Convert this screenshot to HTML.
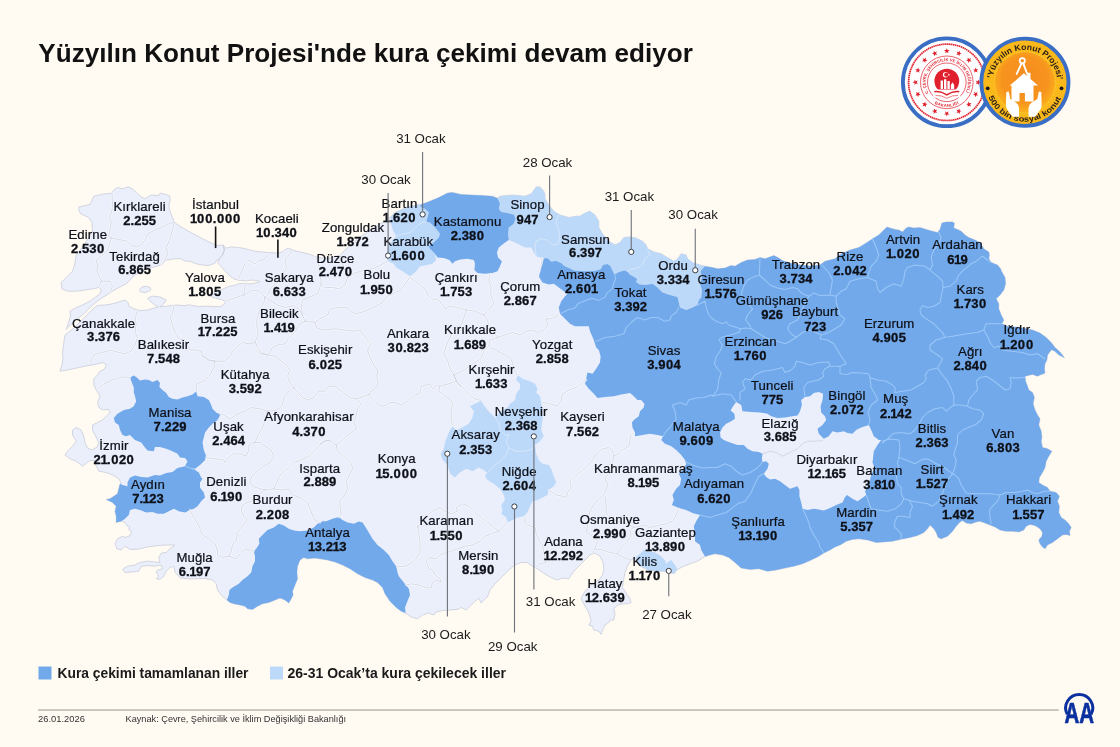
<!DOCTYPE html>
<html lang="tr"><head><meta charset="utf-8"><title>Yüzyılın Konut Projesi'nde kura çekimi devam ediyor</title>
<style>
html,body{margin:0;padding:0;background:#fffaf2}
body{width:1120px;height:747px;overflow:hidden;position:relative;font-family:"Liberation Sans",sans-serif;color:#0e1017}
svg{position:absolute;left:0;top:0;display:block}
text{font-family:"Liberation Sans",sans-serif;fill:#0e1017}
.n{font-size:13.2px;text-anchor:middle;letter-spacing:.1px;stroke:#0e1017;stroke-width:.22px}
.v{font-size:13px;font-weight:700;text-anchor:middle;stroke:#0e1017;stroke-width:.3px}
.d{font-size:13.3px;text-anchor:middle;fill:#1c1c1c}
.vh{fill:none;stroke:#fff;stroke-opacity:.55;stroke-width:2.4;stroke-linejoin:round;stroke-linecap:round}
.vl{fill:none;stroke:#c9cddb;stroke-width:.7;stroke-linejoin:round;stroke-linecap:round}
.dk{fill:none;stroke:#9ac7f8;stroke-width:1.05;stroke-linejoin:round;stroke-linecap:round}
.ml{fill:none;stroke:#d9e8fb;stroke-width:.9;stroke-linejoin:round;stroke-linecap:round}
</style></head><body>
<svg width="1120" height="747" viewBox="0 0 1120 747">
<rect width="1120" height="747" fill="#fffaf2"/>
<text x="38.3" y="61.6" style="font-size:26px;font-weight:700;fill:#111" textLength="654.5" lengthAdjust="spacingAndGlyphs">Yüzyılın Konut Projesi'nde kura çekimi devam ediyor</text>
<g id="map">
<path d="M78.8,207 90,204.4 93.8,196.3 101.3,194.4 111.9,193.1 113.8,190 117.5,187.5 122.5,188.8 128.1,186.9 132.5,188.8 136.3,192.5 141.3,196.9 145,198.8 151.3,195 158.8,195.6 160,193.1 166.3,194.4 170,196.3 170,201.3 168.8,205 170,211.3 172.5,217.5 174.4,222.5 180,226.3 190,232 200,237.5 210,242.5 217.5,245.6 223.1,245 224.4,250 222.5,255 219.4,258.8 216.9,260 215,263.1 208.8,265.6 202.5,265 196.3,263.8 190,261.3 185,261 180,258.6 175,258.8 166.3,260 161.3,265 147.5,268.8 135,275 131.2,278.8 126.2,283.8 118.8,287.5 112.5,291.2 108.8,293.8 102.5,297.5 96.2,302 91,306.5 85,312.8 78.8,317.8 72.5,322.8 66.2,329.4 69,321.2 70.5,316.2 70,311.2 76.2,307.5 82.5,305 90,301.2 95,297.5 100,293.8 101.2,290 98.8,287.5 92.5,288.8 85,290 76.2,291.2 67.5,291.2 61.9,288.8 61.2,282.5 66.2,277.5 72.5,271.2 75,263 76.2,255 84,245 92.5,232 91.9,222.5 88.8,217.5 80.6,213.8 78.8,210ZM223.1,245 226.3,248.1 231.3,246.9 242.5,248.1 255,251.3 267.5,252.5 277.5,253.1 282.5,251.9 286.3,248.8 290,248.5 293.8,250.6 302.5,252.5 310,254.4 315,256.3 322,258 330,258 340,255 347.5,247.5 357.5,238.8 370,230 385,221.3 390.5,217 395,212.5 407.5,206.9 418.8,204.4 420,205 430,201.2 438.8,197.5 447.5,193.1 452.5,192.5 461.2,194.4 471.2,195 482.5,195.6 492.5,196.2 497.5,198.2 500,196.2 512.5,195 525,196.2 531.2,193.8 536.2,186.9 540,186.9 543.8,191.2 545,195 545,198.8 548.8,205 553.8,211.2 560,215 568.8,217.5 576.2,216.2 580,216.2 585,213.1 590,211.2 595,215 598.8,221.2 598.8,227.5 602.5,233.8 608.8,241.2 615,245 620,242.5 623.8,237.5 630,236.9 636.2,238.1 642.5,241.2 646.2,245 647.5,248.8 653.8,251.9 661.2,253.8 667.5,257.5 673.8,261.2 677.5,258.8 681.2,253.8 686.2,255 687.5,258.8 692.5,262.5 700,265 705,266.2 712.5,267.5 717.5,268.8 725,268.1 731.2,265.6 735,266.2 741.2,262.5 747.5,260 755,259.4 760,257.5 765,258.8 773.8,255.6 778.8,258.1 782.5,260.6 790,263 800,265 810,266 820,265 825,261.2 835,258.8 840,254.5 850,250 858.8,247.5 865,243.8 872.5,238.8 878.8,235 883.8,230 886.9,226.9 890,228.1 895,229.4 898.8,230 902.5,231.9 906.2,228.1 908.8,226.9 913.8,228.1 920,227.5 926.2,229.4 932.5,231.2 937.5,232.5 940,229.4 941.9,223.1 946.2,221.9 952.5,221.9 954.4,223.1 953.8,228.1 957.5,229.4 961.2,231.2 965,235 968.8,237.5 975,240 980,242.5 983.8,248.8 988.8,251.9 989.4,255 988.8,258.8 991.2,262.5 997.5,265 1000.6,268.8 1001.5,271.2 1005,277.5 1005.6,283.8 1003.8,290 1000,295 996.2,298.8 998.8,303.8 998.8,308.8 1001.2,315 1003.8,320 1001.9,323.8 1007.5,326.2 1020,327.5 1032.5,330 1040,333.1 1046.2,337.5 1051.2,342.5 1055,347.5 1060,352 1064.5,357.8 1059,355 1054.5,351 1051.5,349.8 1047.5,355 1046.9,360 1045,363.8 1044.4,368.8 1045,373.1 1040,375 1037.5,376.2 1032.5,374.4 1025,376.2 1025.6,381.2 1027.5,386.2 1028.8,390 1032.5,392.5 1034.4,397.5 1033.1,403.8 1035,410 1037.5,415 1040,418.8 1038.8,425 1041.2,431.2 1041.9,437.5 1041.2,441.2 1042.5,447.5 1047.5,448.8 1051.9,451.2 1048.8,456.2 1046.2,461.2 1045,467.5 1042.5,472.5 1039.4,477.5 1038.8,482.5 1042.5,485 1047.5,487.5 1050,491.2 1056.2,492.5 1059.4,496.2 1057.5,501.2 1059.4,506.2 1058.8,512.5 1061.2,517.5 1065,520 1068.8,523.8 1071.2,527.5 1069.4,531.2 1070,535.6 1066.2,534.4 1062.5,535 1057.5,538.8 1052.5,542.5 1047.5,545 1045,548.8 1042.5,546.9 1040,543.8 1038.8,540 1041.9,536.2 1042.5,532.5 1040,528.8 1035,525.6 1030,524.4 1026.2,526.2 1023.8,530 1018.8,531.9 1012.5,531.2 1006.2,531.2 1000,530 995,526.9 990,525 985,523.1 980,521.2 976.2,521.9 971.2,523.8 966.2,523.1 962.5,520.6 960,521.9 956.2,526.2 952.5,531.2 947.5,536.2 941.2,538.8 938.1,537.5 936.2,532.5 933.8,528.8 930,525 927.5,528.8 923.8,532.5 917.5,535.6 910,537.5 900,539.4 892.5,541.2 883.8,541.9 876.2,542.5 867.5,540 858.8,538.8 852.5,539.4 846.2,541.2 841.2,544.4 835,546.9 830,550 823.8,553.1 817.5,556.9 810,560.6 802.5,563.8 793.8,566.2 785,568.1 776.2,570 767.5,571.2 758.8,568.8 750,569.4 741.2,568.1 735,562.5 728.8,557.5 722.5,555 715,553.8 710,555 705,556.6 697.5,561.2 690,563.8 683.8,566.2 677.5,569.4 673.8,573.8 670,572.5 665,571.2 657.5,571.2 648,570 640,566 635,557.5 630,561.2 627.5,566.2 625,572.5 623.8,578.8 622.5,587.5 625,591.2 627.5,595 630,598.8 631.2,602.5 627.5,603.8 622.5,603.8 617.5,605 613.8,608.8 615,613.8 613.8,620 610,620 608.8,622.5 605,625 602.5,630 601.2,634.4 598.8,631.2 593.8,630 592.5,626.2 588.8,625 591.2,621.2 590,616.2 587.5,610 583.8,603.8 581.2,598.8 582.5,595 586.2,590 592.5,583.8 598.8,580 602.5,575 603.8,568.8 603.1,562.5 600,556.2 595,553.1 590,555 585,560 580,565 575,570 571.2,575 568.8,578.8 562.5,578.1 557.5,580 553.8,578.8 548.8,576.2 542.5,572.5 537.5,568.8 532.5,566.2 527.5,562.5 521.2,562.5 515,565 508.8,570 505,573.8 500,578.8 495,583.8 490,590 487.5,596.9 485,598.8 481.2,603.1 478.8,598.1 475,601.2 470,606.2 466.2,610 461.2,607.5 457.5,609.4 450,610 442.5,610.6 436.2,611.9 433.8,615 428.8,613.1 422.5,615 417.5,618.8 411.2,616.9 405.6,613.1 401.2,611.2 396.2,607.5 390,601.2 385,593.8 382.5,587.5 377.5,582.5 372.5,580 365,577.5 357.5,573.8 350,568.8 342.5,565 335,561.9 327.5,560 320,558.8 315,558.1 307.5,558.8 303.8,557.5 300,560 297.5,566.2 296.9,572.5 297.5,578.8 295,585 292.5,591.2 293.1,595 291.2,598.8 288.8,603.1 285,600 280,598.1 275,600 268.8,602.5 262.5,603.8 257.5,606.2 252.5,609.4 247.5,608.8 245,606.2 240,605 233.8,603.8 230,602.5 226.9,600 221.2,595 217.5,590 216.2,583.8 212.5,580 205,578.5 190,579 180,578 175,572 173.8,566.2 170,567.5 166.2,571.2 163.8,576.2 160,579.4 156.2,578.8 158.8,576.2 156.2,572.5 157.5,570 162.5,568.8 161.2,565 155,566.2 147.5,565.6 141.2,566.2 138.8,571.2 132.5,571.9 125,572.5 122.5,569.4 127.5,566.2 135,565 140,562.5 147.5,561.2 155,561.9 160,562.5 158.8,557.5 161.2,553.1 166.2,552.5 170,548.8 175,545 166.2,545 157.5,545.6 147.5,546.9 137.5,549.4 130,549.4 125,546.2 121.2,550 116.9,548.8 115,543.8 117.5,538.8 122.5,536.2 126,537.5 130,535.5 131.5,531.5 128.5,529.5 130,527 126.5,525.5 125,522.5 121.2,521.2 116.2,522.5 116.2,516.2 115,511.2 116.2,506.2 112.5,502.5 106.2,499.4 110,498.8 113.8,496.2 117.5,493.8 118.8,488.8 120,483.8 121.2,483.1 118.8,478.8 112.5,475 106.2,472.5 98.8,471.2 96.2,466.2 93.8,460 88.8,461.2 82.5,466.2 76.2,461.2 70,458.8 65,455 67.5,451.2 72.5,446.2 76.2,441.2 72.5,435 72.5,430 76.2,427.5 81.2,430 83.8,436.2 85,443 87.5,448 92,450 97,447 98.8,443 97.5,440 95,435 92.5,430 92.5,425 97.5,422.5 102.5,420 106.2,416.2 110,412.5 108.8,409.4 102.5,410 98.8,407.5 97.5,402.5 100,396.2 96.2,390 93.8,385 93.8,378.8 97.5,375 100,371.2 105,368.8 106.2,364.4 102.5,362.5 95,364.4 85,366.2 76.2,368.1 67.5,370 60,371.2 62,365 63,358 62.5,352.5 63.8,342.5 65,335 68.5,332.2 73.5,328.5 83.5,318.5 89.8,312.2 94.8,307.2 98,305.4 105,305 112.5,303.8 118.8,301.9 125,300 128.1,302.5 128.8,306.2 133.8,308.8 140,310.6 147.5,310 153.8,308.1 158.8,306.9 155,305 150,301.2 147.5,298.1 152.5,296.2 160,296.9 166.2,300 163.8,303.8 160,306.9 166.2,306.2 175,305 185,305.6 189,304.8 197.9,306.6 206.9,306.1 214.1,306.6 220.4,306.6 223.9,304.3 225.7,301.6 222.2,299.8 212,297.2 210.5,294.5 215,292 223,289.1 228.4,286.4 233.8,285.5 239.2,283.7 244.6,283.4 249.1,284 254.4,283.2 259.8,281.6 257.1,280.4 251.7,280.1 246.4,280.8 240,280.5 234,279 230,276 225.5,271.5 221,266.5 217.7,263.1 219.4,258.8 222.5,255 224.4,250 223.1,245ZM139.5,289.5 142,287 146,286.2 150,287.5 151,289.5 148.5,291.5 144,292.7 140.5,291.8Z" fill="#ebeffb" stroke="#c9cddb" stroke-width=".8" stroke-linejoin="round"/>
<path d="M390.5,217 395,212.5 407.5,206.9 418.8,204.4 420,205 421.2,207.5 425,208.8 428.8,212.5 427.5,217.5 426.2,221.9 430,222.5 436.2,228.8 440,233.8 438.8,237.5 433.8,242.5 428.8,246.2 430,248.8 435,253.8 436.2,260 432.5,263.8 427.5,265 420,266.2 416.2,271.2 410,276.2 402.5,271.2 396.2,267.5 393.8,263.8 387.5,261.2 386.2,255 388.8,246.2 392,240.5 396.2,236.2 392.8,230 390.8,223.5ZM497.5,198.2 500,196.2 512.5,195 525,196.2 531.2,193.8 536.2,186.9 540,186.9 543.8,191.2 545,195 545,198.8 548.8,205 553.8,211.2 560,215 568.8,217.5 576.2,216.2 580,216.2 585,213.1 590,211.2 595,215 598.8,221.2 598.8,227.5 602.5,233.8 608.8,241.2 615,245 620,242.5 623.8,237.5 630,236.9 636.2,238.1 642.5,241.2 646.2,245 647.5,248.8 653.8,251.9 661.2,253.8 667.5,257.5 673.8,261.2 677.5,258.8 681.2,253.8 686.2,255 687.5,258.8 692.5,262.5 700,265 705,266.2 702.5,268.8 700.6,271.2 701.9,277.5 700,283.8 701.9,290 701.2,297.5 698.8,300 697.5,305 692.5,307.5 686.2,310 680,307.5 678.8,302.5 677.5,296.9 670,295 662.5,292.5 657.5,287.5 652.5,283.8 645,285 639.3,284.3 636.1,282.1 637.1,278.9 633.9,276.8 629.6,274.6 627.5,271.4 624.3,270.4 618.9,272 614.6,274.6 612.5,270.4 610.4,266.1 607.1,263.9 602.9,265 600.7,269.3 594.3,270.9 583.6,271.2 573.9,270.4 569.6,268.2 564.3,266.1 561.1,262.9 555.7,260.7 551.4,261.8 547.1,258 543.9,258.6 536.4,256.4 533.8,252.5 531.2,247.5 525,247.5 520,245 515,242.5 508.8,240 508.1,233.8 508.8,227.5 513.8,223.8 515.6,218.8 513.8,214.4 507.5,213.1 501.2,211.9 498.8,208.8 500,203.8ZM517.5,375 522.5,378.8 530,381.2 535,383.8 537.5,388.8 536.2,392.5 540,396.2 541.2,402.5 542.5,408.8 542.5,420 541.2,430 543.8,436.2 540,441.2 535,445 536.2,453.8 538.8,460 542.5,463.8 548.8,465 551.2,468.8 553.8,476.2 556.2,482.5 553.8,486.2 548.8,490 547.5,495 542.5,497.5 537.5,500 532.5,501.2 530,506.2 527.5,512.5 523.8,516.2 517.5,517.5 512.5,520 507.5,522.5 506.2,517.5 501.2,513.8 502.5,510 501.2,505 505,500 503.8,495 500,488.8 493.8,483.8 487.5,480 485,476.2 486.9,473.1 483.8,470 478.8,467.5 472.5,471.2 466.2,468.8 460,472.5 455,477.5 450,473.8 448.8,468.8 446.2,463.8 441.9,458.8 440.6,453.8 443.8,448.8 445,442.5 448.8,432.5 452.5,426.2 456.2,430 462.5,427.5 468.8,423.8 472.5,417.5 473.8,411.2 470,406.2 475,403.8 481.2,400.6 483.8,405 487.5,410 491.2,413.8 495,417.5 500,412 507.5,407.5 510,403.8 515,400 516.2,393.8 520,388.8 520,383.8 516.2,380ZM635,557.5 640,553.8 643.8,550 655,552.5 661.2,556.2 665,560 666.2,563.8 668.8,561.2 671.2,560 675,565 677.5,569.4 673.8,573.8 670,572.5 665,571.2 657.5,571.2 648,570 640,566Z" fill="#bdd9f9"/>
<path d="M705,266.2 712.5,267.5 717.5,268.8 725,268.1 731.2,265.6 735,266.2 741.2,262.5 747.5,260 755,259.4 760,257.5 765,258.8 773.8,255.6 778.8,258.1 782.5,260.6 790,263 800,265 810,266 820,265 825,261.2 835,258.8 840,254.5 850,250 858.8,247.5 865,243.8 872.5,238.8 878.8,235 883.8,230 886.9,226.9 890,228.1 895,229.4 898.8,230 902.5,231.9 906.2,228.1 908.8,226.9 913.8,228.1 920,227.5 926.2,229.4 932.5,231.2 937.5,232.5 940,229.4 941.9,223.1 946.2,221.9 952.5,221.9 954.4,223.1 953.8,228.1 957.5,229.4 961.2,231.2 965,235 968.8,237.5 975,240 980,242.5 983.8,248.8 988.8,251.9 989.4,255 988.8,258.8 991.2,262.5 997.5,265 1000.6,268.8 1001.5,271.2 1005,277.5 1005.6,283.8 1003.8,290 1000,295 996.2,298.8 998.8,303.8 998.8,308.8 1001.2,315 1003.8,320 1001.9,323.8 1007.5,326.2 1020,327.5 1032.5,330 1040,333.1 1046.2,337.5 1051.2,342.5 1055,347.5 1060,352 1064.5,357.8 1059,355 1054.5,351 1051.5,349.8 1047.5,355 1046.9,360 1045,363.8 1044.4,368.8 1045,373.1 1040,375 1037.5,376.2 1032.5,374.4 1025,376.2 1025.6,381.2 1027.5,386.2 1028.8,390 1032.5,392.5 1034.4,397.5 1033.1,403.8 1035,410 1037.5,415 1040,418.8 1038.8,425 1041.2,431.2 1041.9,437.5 1041.2,441.2 1042.5,447.5 1047.5,448.8 1051.9,451.2 1048.8,456.2 1046.2,461.2 1045,467.5 1042.5,472.5 1039.4,477.5 1038.8,482.5 1042.5,485 1047.5,487.5 1050,491.2 1056.2,492.5 1059.4,496.2 1057.5,501.2 1059.4,506.2 1058.8,512.5 1061.2,517.5 1065,520 1068.8,523.8 1071.2,527.5 1069.4,531.2 1070,535.6 1066.2,534.4 1062.5,535 1057.5,538.8 1052.5,542.5 1047.5,545 1045,548.8 1042.5,546.9 1040,543.8 1038.8,540 1041.9,536.2 1042.5,532.5 1040,528.8 1035,525.6 1030,524.4 1026.2,526.2 1023.8,530 1018.8,531.9 1012.5,531.2 1006.2,531.2 1000,530 995,526.9 990,525 985,523.1 980,521.2 976.2,521.9 971.2,523.8 966.2,523.1 962.5,520.6 960,521.9 956.2,526.2 952.5,531.2 947.5,536.2 941.2,538.8 938.1,537.5 936.2,532.5 933.8,528.8 930,525 927.5,528.8 923.8,532.5 917.5,535.6 910,537.5 900,539.4 892.5,541.2 883.8,541.9 876.2,542.5 867.5,540 858.8,538.8 852.5,539.4 846.2,541.2 841.2,544.4 835,546.9 830,550 823.8,553.1 817.5,556.9 810,560.6 802.5,563.8 793.8,566.2 785,568.1 776.2,570 767.5,571.2 758.8,568.8 750,569.4 741.2,568.1 735,562.5 728.8,557.5 722.5,555 715,553.8 710,555 705,556.6 701.2,550 700,545 695,541.2 695,533.8 693.8,526.2 696.2,521.2 700,515 692.5,513.1 686.2,510 678.8,508.1 671.9,505 673.8,500 672.5,495 676.2,488.8 680,485 681.2,478.8 678.8,473.8 683.8,468.8 686.2,463.8 685,460 681.2,455 676.2,450 671.2,446.2 665,443.8 661.2,440 663.1,436.2 657.5,435 650,433.8 642.5,435 635,436.2 635,432.5 632.5,427.5 631.9,422.5 633.8,420 638.8,416.2 640,411.2 643.8,407.5 644.4,403.8 641.2,400 637.5,400 633.8,396.2 630,393.1 621.2,394.4 613.8,396.2 605,396.9 597.5,398.1 593.8,393.8 588.8,388.8 585,383.8 586.2,378.8 587.5,372.5 592.5,373.8 596.2,368.8 600,362.5 600.6,356.2 598.8,350 596.2,347.5 593.8,340 590,331.2 588.8,326.2 582.5,326.2 575,326.2 570,323.8 565,318.8 560,313.8 558.8,307.5 561.2,301.2 565,296.2 567.5,293.8 563.8,291.2 558.8,287.5 553.8,283.8 548.8,284.4 542.5,282.5 539.4,277.5 539.1,275.7 540.7,270.4 541.8,265 543.9,258.6 547.1,258 551.4,261.8 555.7,260.7 561.1,262.9 564.3,266.1 569.6,268.2 573.9,270.4 583.6,271.2 594.3,270.9 600.7,269.3 602.9,265 607.1,263.9 610.4,266.1 612.5,270.4 614.6,274.6 618.9,272 624.3,270.4 627.5,271.4 629.6,274.6 633.9,276.8 637.1,278.9 636.1,282.1 639.3,284.3 645,285 652.5,283.8 657.5,287.5 662.5,292.5 670,295 677.5,296.9 678.8,302.5 680,307.5 686.2,310 692.5,307.5 697.5,305 698.8,300 701.2,297.5 701.9,290 700,283.8 701.9,277.5 700.6,271.2 702.5,268.8 705,266.2ZM720,432.5 722.5,427.5 726.2,423.8 731.2,421.2 735,418.8 734.4,413.8 730.6,410.6 733.1,406.2 736.2,401.9 741.2,405 742.5,411.2 751.2,411.9 760,412.5 767.5,413.8 771.2,416.2 777.5,418.1 785,417.5 792.5,416.2 797.5,415.6 800,411.2 801.9,405 801.2,400 805,396.9 810,396.2 813.8,393.1 818.8,391.9 823.1,393.8 822.5,400 820.6,406.2 821.2,412.5 825,416.2 826.2,420 822.5,425 817.5,428.8 818.8,433.8 823.8,438.8 828.8,436.2 832.5,431.2 837.5,432.5 843.8,431.2 847.5,433.1 852.5,433.8 856.2,430 861.2,427.5 868.8,425 871.2,430 873.8,436.2 878.8,440 881.2,440 877.5,445 873.8,451.2 873.1,457.5 872.5,462.5 874.4,467.5 871.2,475 868.8,485 865,491.2 866.2,495 861.2,498.8 857.5,501.2 852.5,498.8 847,495 845,497 842.5,502.5 836.2,505 830,508.1 823.8,510.6 818.8,509.4 813.8,508.8 807.5,510 802.5,508.8 801.2,502.5 799.4,496.2 799.4,490 797.5,486.2 793.8,487.5 790,488.8 785,485 780,481.2 775,478.8 770,479.4 766.2,476.9 763.8,473.8 767.5,468.8 768.8,463.8 766.2,461.2 762.5,461.9 761.9,458.8 762.5,453.8 758.8,451.9 752.5,451.2 747.5,448.8 743.8,445 737.5,445 730,442.5 723.8,440 720.6,437.5Z" fill="#72a9ea" fill-rule="evenodd"/>
<path d="M420,205 430,201.2 438.8,197.5 447.5,193.1 452.5,192.5 461.2,194.4 471.2,195 482.5,195.6 492.5,196.2 497.5,198.2 500,203.8 498.8,208.8 501.2,211.9 507.5,213.1 513.8,214.4 515.6,218.8 513.8,223.8 508.8,227.5 508.1,233.8 508.8,240 505,242.5 498.8,247.5 496.9,252.5 498.1,257.5 501.9,261.2 500,266.2 497.5,271.2 492.5,273.1 485,273.8 477.5,273.1 474.4,270 475,263.8 473.8,260 467.5,258.8 460,259.4 455,261.2 452.5,263.8 449.4,260 443.8,258.1 437.5,257.5 435,253.8 430,248.8 428.8,246.2 433.8,242.5 438.8,237.5 440,233.8 436.2,228.8 430,222.5 426.2,221.9 427.5,217.5 428.8,212.5 425,208.8 421.2,207.5ZM130,377.5 133.8,375.6 137.5,378.1 140,380.6 145,379.4 148.8,380 152.5,381.9 157.5,380 160,383.1 159.4,386.9 162.5,390 166.2,393.1 168.8,396.9 172.5,398.8 177.5,399.4 182.5,397.5 187.5,396.2 192.5,394.4 196.2,391.2 197.5,396.2 203.8,396.9 208.8,400 211.2,405 212.5,408.8 216.2,412.5 220.6,414.4 217.5,420 212.5,423.8 208.8,427.5 205,432.5 203.8,437.5 202.5,442.5 203.8,450 206.2,456.2 205,460 200,465 195,468.8 190,468.1 185,466.2 187.5,461.2 185,458.1 180,457.5 177.5,453.8 172.5,451.2 166.2,448.8 160,446.9 155,446.9 153.8,451.2 147.5,450.6 145,447.5 141.2,442.5 135,440 132.5,437.5 130,435 126.2,436.2 122.5,435 120,430 118.8,425 115,422.5 113.8,418.1 117.5,413.8 123.8,410 130,408.8 133.8,406.2 136.2,401.2 135,396.2 133.8,392.5 133.8,387.5 131.9,382.5ZM130,477.5 135,475.6 141.2,476.9 147.5,477.5 155,475 160,475.6 166.2,473.1 172.5,471.9 177.5,468.1 185,466.2 190,468.1 195,470 198.8,472.5 201.2,477.5 202.5,478.8 200,482.5 200,487.5 203.8,492.5 205,497.5 201.2,501.2 197.5,506.2 193.8,508.8 190,510 185,512.5 178.8,511.2 173.8,508.8 168.8,511.2 163.8,513.8 157.5,513.8 152.5,511.9 146.2,512.5 140,510 135,508.8 130,510 128.8,515 125,518.8 121.2,521.2 116.2,522.5 116.2,516.2 115,511.2 116.2,506.2 112.5,502.5 106.2,499.4 110,498.8 113.8,496.2 117.5,493.8 118.8,488.8 120,483.8 122.5,485 127.5,486.2 127.5,482.5ZM278.8,523.8 283.8,525.6 288.8,528.8 293.8,530.6 300,531.2 307.5,530.6 313.8,527.5 317.5,523.8 322.5,521.2 326.2,521.2 332.5,518.8 338.8,516.9 342.5,520 347.5,522.5 353.8,523.8 358.8,521.5 362.5,522.5 365,526.2 368.8,532.5 372.5,538.8 377.5,545 383.8,550 388.8,555 392.5,561.2 396.2,566.2 397.5,572.5 398.8,576.2 403.8,582.5 408.8,588.8 410,595 406.9,602.5 405,607.5 405.6,613.1 401.2,611.2 396.2,607.5 390,601.2 385,593.8 382.5,587.5 377.5,582.5 372.5,580 365,577.5 357.5,573.8 350,568.8 342.5,565 335,561.9 327.5,560 320,558.8 315,558.1 307.5,558.8 303.8,557.5 300,560 297.5,566.2 296.9,572.5 297.5,578.8 295,585 292.5,591.2 293.1,595 291.2,598.8 288.8,603.1 285,600 280,598.1 275,600 268.8,602.5 262.5,603.8 257.5,606.2 252.5,609.4 247.5,608.8 245,606.2 240,605 233.8,603.8 230,602.5 226.9,600 228.8,595 229.4,590 232.5,587.5 238.8,583.8 242.5,580 247.5,576.2 251.2,572.5 252.5,566.2 255,561.2 255,556.2 253.8,551.2 256.2,548.8 259.4,543.8 258.8,538.8 262.5,535 267.5,530 273.8,527.5Z" fill="#72a9ea"/>
<path class="vh" d="M111.9,193.1 112.5,202.5 111.9,211.3 109.4,217.5 111.3,221.3 110,230 108.8,236.3 111.3,238.1M111.3,238.1 118.8,239.4 127.5,241.3 131.3,245 136.3,246.9 141.3,245 145,240 147.5,233.8 155,230 163.8,226.3 170,223.1 174.4,222.5M174.4,222.5 172.5,230 170,238.8 166.3,247.5 167.5,253.8 165,260 161.3,265M111.3,238.1 110,242.5 107.5,250 101.3,256.3 96.3,260 97.5,265 96.9,271.2 101.2,281.2 110,281.2 112.5,286.2 110,291.9M101.2,281.2 98.8,287.5M268.1,254.4 265,258.8 257.5,261.3 255,263.8 248.8,260 245,263.8 242.5,270 240,275 238,279M290,248.5 291.3,252.5 286.3,257.5 285,262.5 286.9,267.5 286.2,268.8 282.5,273.8 280,280 271.2,287.5 267.5,295 265,297.5M245,285 243.8,295 252.5,290 260,291.2 265,297.5M243.8,295 235,298 226,301M137.5,311.2 135,317.5 136.2,323.8 135,332.5 137.5,337.5 135,345 131.2,351.2 125,353.8 118.8,352.5 110,350 102.5,352.5 95,353.8 92.5,358 90,363M173.8,305.6 172.5,313.8 170,316.2 172.5,325 175,332.5 178.8,338.8 185,340 190,350 196.2,350 201.2,351.2 202.5,356.2 208.8,360 215,361.2M265,297.5 263.8,302.5 260,308.8 257.5,317.5 256.2,323.8 258.1,330 257.5,336.2 255,342.5 257.5,347.5 261.2,352.5 267.5,355M255,342.5 248.8,343.8 242.5,342.5 237.5,346.2 232.5,351.2 231.2,355 225,361.2 215,361.2M265,297.5 271.2,301.2 277.5,305 285,307.5 293.8,305.6 298.8,308.8 302.5,315 305,321.2M305,321.2 300,323.8 296.2,330 292.5,335 287.5,338.8 285,343.8 277.5,345 272.5,347.5 270,352.5 267.5,355M321.2,283.8 317.5,293.8 308.8,297.5 302.5,300 301.2,307.5 302.5,315M305,321.2 315,322.5 316.2,327.5 322.5,330 327.5,329.4 336.2,328.8 345,330 353.8,331.2 360,330 363.8,335 367.5,340 371.2,343.8 367.5,350 370,357.5 373.8,365 377.5,370 376.9,377.5 378.1,383.8 375,388.8 370,392.5 368.8,394.4M410,277.5 405,283.8 401.2,290 395,292.5 387.5,296.2 382.5,302.5 373.8,307.5 365,311.2 356.2,313.8 351.2,311.2 346.2,307.5 338.8,307.5 330,308.8 327.5,315 320,318.8 315,322.5M410,277.5 415,281.2 421.2,286.2 426.2,290 427.5,295 432.5,298.8 438.8,300 442.5,305 445,308.8 450,306.2 457.5,307.5 466.2,310 475,311.2 483.8,315M347.5,277.5 345,285 338.8,288.8 332.5,287.5 325,287.5 321.2,283.8M347.5,277.5 344,268 340,255M321.2,283.8 320,272 318,262 315,256.3M347.5,277.5 355,273 365,270 375,268 387.5,261.2M451.2,335 447.5,342.5 445,350 443.8,353.8 447.5,360 450,368.8 453.8,375 456.2,381.2 460,386.2M466.2,310 463.8,317.5 461.2,325 456,330 451.2,335M490,274.4 488.8,280 491.2,287.5 490.6,295 493.8,302.5 490,308.8 483.8,315 487.5,320 488.8,326.2 493.8,331.2 497.5,337.5M497.5,337.5 505,335 512.5,332.5 520,335 526.2,331.2 532.5,330 537.5,332.5 543.8,330 547.5,325 546.2,318.8 551.2,318.8 558.8,315M497.5,337.5 490,340 488.8,346.2 483.8,351.2 481.2,358 478.8,360 471.2,365 462.5,371.2 453.8,375M453.8,375 457.5,382.5 462.5,387.5 468.8,393.8 475,398.8 481.2,400.6M490,347.5 496.2,350 502.5,353.8 510,357.5 512.5,362.5 513.8,368.8 517.5,375M542.5,402.5 550,403.8 557.5,406.2 561.2,400 562.5,393.8 568.8,390 576.2,387.5 582.5,382.5 586.2,380M542,258.5 541.2,265M202.5,356.2 203.8,356.2 208.8,360 215,361.2 213.8,367.5 210,375 203.8,381.2 196.2,383.8 196.2,391.2M256.2,350 260,353.8 267.5,355 275,356.2 280,360 286.2,365 290,370 287.5,376.2 290,382.5 293.8,387.5M293.8,387.5 287.5,392.5 283.8,397.5 282.5,405 277.5,410 267.5,411.2 260,408.8 251.2,407.5 245,411.2 237.5,413.8 230,418.8 223.8,415 220.6,414.4M293.8,387.5 297.5,392.5 302.5,397.5 307.5,400 313.8,397.5 318.8,391.2 325,391.2 328.8,386.2 335,386.2 340,390 345,393.8 350,397.5 356.2,398.8 362.5,396.9 368.8,394.4M267.5,411.2 265,420 262.5,427.5 257.5,436.2 255,443 253.8,442.5 248.8,445 248.8,450 246.2,456.2 240,453.8 233.8,453.8 228.8,457.5 225,462.5 223.8,460 215,458.8 206.2,457.5M368.8,394.4 372.5,398.8 376.2,402.5 381.2,406.2 386.2,405 390,402.5 395,402.5 401.2,405 407.5,401.2 413.8,396.2 420,392.5 421.2,386.2 426.2,385 430,383.8 432.5,388.8 437.5,385 440,386.2 438.8,391.2 445,396.2 450,398.8 452.5,403.8 451.2,412.5 451.2,420 452.5,425M440,386.2 448,384 456.2,381.2M356.2,398.8 361.2,403.8 357.5,408.8 356.2,415 353.8,422.5 356.9,428.8 351.2,432.5 345,437.5 342.5,440 336.2,445M97.5,388.8 103.8,383.8 112.5,380 122.5,376.9 130,377.5M253.8,442.5 260,442.5 265,446.2 271.2,450 273.8,456.2 270,462.5 263.8,466.2 257.5,471.2 252.5,475 250,481.2 252.5,486.2 260,488.8 265,490M265,490 260,493.8 255,500 247.5,502.5 242.5,505 241.2,510 243.8,516.2 247.5,520 242.5,526.2 237.5,532.5 236.2,540 232.5,545 231.2,551.2 228.8,556.2M330,440 325,441.2 320,445 315,450 308.8,456.2 301.2,460 293.8,462.5 288.8,467.5 282.5,472.5 278.8,477.5 276.2,483.8 273.8,488.8 265,490M273.8,488.8 281.2,490 288.8,488.8 291.2,493.8 296.2,496.2 302.5,498.8 307.5,502.5 310,508.8 312.5,515 315,520 320,522.5M336.2,445 337.5,451.2 343.8,456.2 350,462.5 353.1,467.5 350,473.8 346.2,481.2 347.5,488.8 345,495 340,500 340,507.5 341.2,515 338.8,516.9M320,443.8 326.2,440 331.2,441.2 336.2,445M190,510 192.5,515 196.2,521.2 198.8,526.2 202.5,535 208.8,538.8 215,543.8 217.5,550 217.5,555 222.5,557.5 228.8,556.2 236.2,558.8 240,553.8 245,548.8 253.8,551.2M417.5,528 426.2,516.2 432.5,511.2 440,507.5 445,511.2 451.2,513.8 457.5,511.2 456.2,507.5 462.5,503.8 468.8,506.2 475,512.5 481.2,517.5 487.5,522.5 492.5,526.2 498.8,531.2M417.5,525 418.8,532.5 420,542.5 420,552.5 416.2,558.8 410,563.8 405,566.2 397.5,566.9M498.8,531.2 491.2,533.8 485,536.2 480,541.2 472.5,545 465,546.2 457.5,548.8 451.2,551.2 445,553.1 440,555 436.2,558.8 430,557.5 426.2,561.2 428.8,568.8 432.5,570 435,575 440,578.8 441.2,581.9 436.2,580 432.5,582.5 431.2,588.1 426.2,587.5 418.8,585 411.2,583.8 406.2,585M498.8,531.2 503,527 507.5,522.5M525,517.5 525,522.5 527.5,525 535,527.5 536.2,533.8 538.8,540 542.5,545 543.8,551.2 545,558.8 546.2,562.5 538.8,564.4 536.2,566.9M548.8,490 556.2,495 562.5,496.2 566.2,497.5 567.5,492.5 571.2,487.5 570,481.2 575,476.2 581.2,471.2 587.5,466.2 592.5,460 596.2,453.8 602.5,448.8 608.8,447.5 612.5,450 613.8,456.2M631.2,435 630,440 628.8,446.2 623.8,448.8 618.8,453.8 613.8,456.2 612.5,463.8 610,472.5 605,477.5 607.5,485 605,492.5 601.2,497.5 595,502.5 591.2,508.8 588.8,515 587.5,526.2 586.2,532.5 592.5,536.2 597.5,541.2 595,548.8 592.5,552.5M605,496.2 606.2,505 606.2,513.8 612,519 620,522 628,524 633.8,527.5M678.8,508.8 676.2,515 672.5,521.2 666.2,523.8 660,525 655,526.2 650,527.5 645,525 640,526.2 633.8,527.5 630,530 631.2,536.2 626.2,542.5 621.2,547.5 617.5,553.8 610,552.5 602.5,550 595,548.8M617.5,553.8 623.8,557.5 630,560 635,557.5"/>
<path class="vl" d="M111.9,193.1 112.5,202.5 111.9,211.3 109.4,217.5 111.3,221.3 110,230 108.8,236.3 111.3,238.1M111.3,238.1 118.8,239.4 127.5,241.3 131.3,245 136.3,246.9 141.3,245 145,240 147.5,233.8 155,230 163.8,226.3 170,223.1 174.4,222.5M174.4,222.5 172.5,230 170,238.8 166.3,247.5 167.5,253.8 165,260 161.3,265M111.3,238.1 110,242.5 107.5,250 101.3,256.3 96.3,260 97.5,265 96.9,271.2 101.2,281.2 110,281.2 112.5,286.2 110,291.9M101.2,281.2 98.8,287.5M268.1,254.4 265,258.8 257.5,261.3 255,263.8 248.8,260 245,263.8 242.5,270 240,275 238,279M290,248.5 291.3,252.5 286.3,257.5 285,262.5 286.9,267.5 286.2,268.8 282.5,273.8 280,280 271.2,287.5 267.5,295 265,297.5M245,285 243.8,295 252.5,290 260,291.2 265,297.5M243.8,295 235,298 226,301M137.5,311.2 135,317.5 136.2,323.8 135,332.5 137.5,337.5 135,345 131.2,351.2 125,353.8 118.8,352.5 110,350 102.5,352.5 95,353.8 92.5,358 90,363M173.8,305.6 172.5,313.8 170,316.2 172.5,325 175,332.5 178.8,338.8 185,340 190,350 196.2,350 201.2,351.2 202.5,356.2 208.8,360 215,361.2M265,297.5 263.8,302.5 260,308.8 257.5,317.5 256.2,323.8 258.1,330 257.5,336.2 255,342.5 257.5,347.5 261.2,352.5 267.5,355M255,342.5 248.8,343.8 242.5,342.5 237.5,346.2 232.5,351.2 231.2,355 225,361.2 215,361.2M265,297.5 271.2,301.2 277.5,305 285,307.5 293.8,305.6 298.8,308.8 302.5,315 305,321.2M305,321.2 300,323.8 296.2,330 292.5,335 287.5,338.8 285,343.8 277.5,345 272.5,347.5 270,352.5 267.5,355M321.2,283.8 317.5,293.8 308.8,297.5 302.5,300 301.2,307.5 302.5,315M305,321.2 315,322.5 316.2,327.5 322.5,330 327.5,329.4 336.2,328.8 345,330 353.8,331.2 360,330 363.8,335 367.5,340 371.2,343.8 367.5,350 370,357.5 373.8,365 377.5,370 376.9,377.5 378.1,383.8 375,388.8 370,392.5 368.8,394.4M410,277.5 405,283.8 401.2,290 395,292.5 387.5,296.2 382.5,302.5 373.8,307.5 365,311.2 356.2,313.8 351.2,311.2 346.2,307.5 338.8,307.5 330,308.8 327.5,315 320,318.8 315,322.5M410,277.5 415,281.2 421.2,286.2 426.2,290 427.5,295 432.5,298.8 438.8,300 442.5,305 445,308.8 450,306.2 457.5,307.5 466.2,310 475,311.2 483.8,315M347.5,277.5 345,285 338.8,288.8 332.5,287.5 325,287.5 321.2,283.8M347.5,277.5 344,268 340,255M321.2,283.8 320,272 318,262 315,256.3M347.5,277.5 355,273 365,270 375,268 387.5,261.2M451.2,335 447.5,342.5 445,350 443.8,353.8 447.5,360 450,368.8 453.8,375 456.2,381.2 460,386.2M466.2,310 463.8,317.5 461.2,325 456,330 451.2,335M490,274.4 488.8,280 491.2,287.5 490.6,295 493.8,302.5 490,308.8 483.8,315 487.5,320 488.8,326.2 493.8,331.2 497.5,337.5M497.5,337.5 505,335 512.5,332.5 520,335 526.2,331.2 532.5,330 537.5,332.5 543.8,330 547.5,325 546.2,318.8 551.2,318.8 558.8,315M497.5,337.5 490,340 488.8,346.2 483.8,351.2 481.2,358 478.8,360 471.2,365 462.5,371.2 453.8,375M453.8,375 457.5,382.5 462.5,387.5 468.8,393.8 475,398.8 481.2,400.6M490,347.5 496.2,350 502.5,353.8 510,357.5 512.5,362.5 513.8,368.8 517.5,375M542.5,402.5 550,403.8 557.5,406.2 561.2,400 562.5,393.8 568.8,390 576.2,387.5 582.5,382.5 586.2,380M542,258.5 541.2,265M202.5,356.2 203.8,356.2 208.8,360 215,361.2 213.8,367.5 210,375 203.8,381.2 196.2,383.8 196.2,391.2M256.2,350 260,353.8 267.5,355 275,356.2 280,360 286.2,365 290,370 287.5,376.2 290,382.5 293.8,387.5M293.8,387.5 287.5,392.5 283.8,397.5 282.5,405 277.5,410 267.5,411.2 260,408.8 251.2,407.5 245,411.2 237.5,413.8 230,418.8 223.8,415 220.6,414.4M293.8,387.5 297.5,392.5 302.5,397.5 307.5,400 313.8,397.5 318.8,391.2 325,391.2 328.8,386.2 335,386.2 340,390 345,393.8 350,397.5 356.2,398.8 362.5,396.9 368.8,394.4M267.5,411.2 265,420 262.5,427.5 257.5,436.2 255,443 253.8,442.5 248.8,445 248.8,450 246.2,456.2 240,453.8 233.8,453.8 228.8,457.5 225,462.5 223.8,460 215,458.8 206.2,457.5M368.8,394.4 372.5,398.8 376.2,402.5 381.2,406.2 386.2,405 390,402.5 395,402.5 401.2,405 407.5,401.2 413.8,396.2 420,392.5 421.2,386.2 426.2,385 430,383.8 432.5,388.8 437.5,385 440,386.2 438.8,391.2 445,396.2 450,398.8 452.5,403.8 451.2,412.5 451.2,420 452.5,425M440,386.2 448,384 456.2,381.2M356.2,398.8 361.2,403.8 357.5,408.8 356.2,415 353.8,422.5 356.9,428.8 351.2,432.5 345,437.5 342.5,440 336.2,445M97.5,388.8 103.8,383.8 112.5,380 122.5,376.9 130,377.5M253.8,442.5 260,442.5 265,446.2 271.2,450 273.8,456.2 270,462.5 263.8,466.2 257.5,471.2 252.5,475 250,481.2 252.5,486.2 260,488.8 265,490M265,490 260,493.8 255,500 247.5,502.5 242.5,505 241.2,510 243.8,516.2 247.5,520 242.5,526.2 237.5,532.5 236.2,540 232.5,545 231.2,551.2 228.8,556.2M330,440 325,441.2 320,445 315,450 308.8,456.2 301.2,460 293.8,462.5 288.8,467.5 282.5,472.5 278.8,477.5 276.2,483.8 273.8,488.8 265,490M273.8,488.8 281.2,490 288.8,488.8 291.2,493.8 296.2,496.2 302.5,498.8 307.5,502.5 310,508.8 312.5,515 315,520 320,522.5M336.2,445 337.5,451.2 343.8,456.2 350,462.5 353.1,467.5 350,473.8 346.2,481.2 347.5,488.8 345,495 340,500 340,507.5 341.2,515 338.8,516.9M320,443.8 326.2,440 331.2,441.2 336.2,445M190,510 192.5,515 196.2,521.2 198.8,526.2 202.5,535 208.8,538.8 215,543.8 217.5,550 217.5,555 222.5,557.5 228.8,556.2 236.2,558.8 240,553.8 245,548.8 253.8,551.2M417.5,528 426.2,516.2 432.5,511.2 440,507.5 445,511.2 451.2,513.8 457.5,511.2 456.2,507.5 462.5,503.8 468.8,506.2 475,512.5 481.2,517.5 487.5,522.5 492.5,526.2 498.8,531.2M417.5,525 418.8,532.5 420,542.5 420,552.5 416.2,558.8 410,563.8 405,566.2 397.5,566.9M498.8,531.2 491.2,533.8 485,536.2 480,541.2 472.5,545 465,546.2 457.5,548.8 451.2,551.2 445,553.1 440,555 436.2,558.8 430,557.5 426.2,561.2 428.8,568.8 432.5,570 435,575 440,578.8 441.2,581.9 436.2,580 432.5,582.5 431.2,588.1 426.2,587.5 418.8,585 411.2,583.8 406.2,585M498.8,531.2 503,527 507.5,522.5M525,517.5 525,522.5 527.5,525 535,527.5 536.2,533.8 538.8,540 542.5,545 543.8,551.2 545,558.8 546.2,562.5 538.8,564.4 536.2,566.9M548.8,490 556.2,495 562.5,496.2 566.2,497.5 567.5,492.5 571.2,487.5 570,481.2 575,476.2 581.2,471.2 587.5,466.2 592.5,460 596.2,453.8 602.5,448.8 608.8,447.5 612.5,450 613.8,456.2M631.2,435 630,440 628.8,446.2 623.8,448.8 618.8,453.8 613.8,456.2 612.5,463.8 610,472.5 605,477.5 607.5,485 605,492.5 601.2,497.5 595,502.5 591.2,508.8 588.8,515 587.5,526.2 586.2,532.5 592.5,536.2 597.5,541.2 595,548.8 592.5,552.5M605,496.2 606.2,505 606.2,513.8 612,519 620,522 628,524 633.8,527.5M678.8,508.8 676.2,515 672.5,521.2 666.2,523.8 660,525 655,526.2 650,527.5 645,525 640,526.2 633.8,527.5 630,530 631.2,536.2 626.2,542.5 621.2,547.5 617.5,553.8 610,552.5 602.5,550 595,548.8M617.5,553.8 623.8,557.5 630,560 635,557.5"/>
<path class="vl" d="M762.5,453.8 770,451.2 776.2,452.5 782.5,456.2 790,452.5 797.5,448.8 802.5,443.8 807.5,441.2 815,441.2 822.5,440.6"/>
<path class="ml" d="M396.2,236.2 402,234 410,232.5 414,229 418,225 422,222.5 426.2,221.9M558.8,215 556.2,221.2 558.8,230 560,238.8 557.5,243.8 552.5,245 547.5,240 541.2,238.8 536.2,241.2 535,246.2 536.2,256.2M647.5,250 650,255 645,258.8 642.5,265 637.1,268.2 630.7,269.3 627.5,271.4M508.8,435 506.2,441.2 508.8,447.5 515,451.2 525,451.2 532.5,448.8 535,445M508.8,447.5 506.2,455 500,461.2 493.8,466.2 486.9,473.1M495,417.5 498.8,422.5 500,430 505,435 508.8,435"/>
<path class="dk" d="M615.7,278.9 613.6,283.2 612.5,288.6 607.1,292.9 605,297.1 598.6,300.4 592.1,298.2 585.7,300.4 578.2,303.6 575,307.9 567.5,310 561,313.5M614.6,274.6 615.7,278.9M596.2,341.2 605,337.5 615,336.2 623.8,333.8 626.2,327.5 631.2,322.5 637.5,317.5 645,320 651.2,317.5 657.5,317.5 665,321.2 670,320 671.2,316.2 676.2,312.5 678.8,307.5M697.5,305 705,301.2 706.2,307.5 708.8,315 712.5,318.8 716.2,321.2 722.5,323.8 726.2,321.9 728.8,325 735,326.9 740.6,328.8 745.6,328.1 751.2,328.8M760,257.5 759.4,275 753.8,276.9 747.5,280 743.8,286.2 741.2,293.8 745,300 752.5,308.8 747.5,315 745.6,320 748.8,323.8 751.2,328.8 757.5,332.5 765,337.5 777.5,341.2 785,343.8 790,341.2 796.2,337.5M759.4,275 765,280 770,285 777.5,288.1 785,289.4 792.5,287.5 797.5,288.8 802.5,293.8 808.8,296.2 813.8,293.1 820,295.6 830,295 836.2,296.2 841.2,291.2 846.2,288.8 850,281.2 858.8,278.8 867.5,277.5 876.2,281.2 877.5,288.8 880,292.5 886.2,287.5 893.8,283.8 901.2,286.2 903.8,278.8 905,271.2 907.5,267.5 915,265 925,266.2 930,270M822,265 828.8,272.5 832.5,280 831.2,287.5 830,295M836.2,296.2 836.2,302.5 840,315 845,318.8 841.2,325 835,328.8 828.8,332.5 821.2,335M808.8,296.2 805,303.8 801,312 797.5,320 790,323.8 787.5,328.8 791.2,333.8 796.2,337.5 802.5,332.5 810,330 821.2,335 820,338.8 827.5,340 833.8,343.8 837.5,350 841.2,356.2 846.2,363.8 840,366.2M740.6,328.8 738.8,332.5 730,335 721.2,337.5 718.8,340 722.5,345 720,351.2 716.2,356.2 714.4,363.8 717.5,368.8 721.2,372.5 718.8,380 717.5,390 712.5,396.2M672.5,405 680,402.5 686.2,405 688.8,400 696.2,398.1 703.8,397.5 711.2,395 712.5,396.2 722.5,393.8 731.2,395 736.2,401.9M672.5,405 675,411.2 676.2,418.8 672.5,423.8 670,427.5 666.2,431.2 663.1,436.2M740,400 740,392.5 745,388.8 742.5,382.5 745,378.8 751.2,380 755,375 762.5,371.2 772.5,370 782.5,367.5 785,372.5 791.2,370 795,366.2 796.2,361.2 802.5,362.5 810,365 818.8,362.5 828.8,361.9 830,366.2 825,368.8 822.5,372.5 823.8,376.2 818.8,380 812.5,381.2 807.5,382.5 803.8,387.5 805,396.2M830,366.2 840,366.2 840,373.8 847.5,374.4 852.5,372.5 861.2,373.1 868.8,373.8 870,377.5 877.5,380 886.2,381.2 892.5,385 895,387.5 895,392.5 902.5,391.2 911.2,390 917.5,386.2 923.8,382.5 926.2,378.8 925,375 928.8,370 937.5,368.1M872.5,238.8 876.2,247.5 878.8,255 876.2,261.2 871.2,266.2 868.8,273 867.5,277.5M938.8,232.5 941.2,237.5 938.8,243.8 933.8,250 931.2,257.5 932.5,265 930,270 931.2,271.2 937.5,276.2 942.5,281.2 943.1,287.5 941.2,296.2 940,302.5 933.8,306.2 927.5,307.5 922.5,305.6 920,310 921.2,315 926.2,318.8 933.8,323.8 940,330 943.8,334.4 944.4,337.5M943.1,287.5 950,286.2 956.2,281.2 958.8,275 962.5,271.2 965,268.8 971.2,263.8 976.2,261.2 982.5,256.2 987.5,260 990,262.5M944.4,337.5 952.5,336.2 962.5,334.4 972.5,333.1 977.5,332.5 983.8,330 986.2,323.8 995,323.8 1001.9,323.8M944.4,337.5 936.2,340 930,345 930,350 937.5,355 942.5,358.8 940,363.8 937.5,368.1 942.5,375 947.5,381.2 951.2,388.8 953.8,396.2 953.8,405 948.8,408.8 946.2,411.2M983.8,330 987.5,336.2 990,342.5 993.8,347.5 998.8,346.2 1002.5,350 1011.2,351.2 1022.5,352.5 1030,355 1037.5,353.8 1045,358.8M946.2,411.2 942.5,407.5 935,408.8 927.5,412.5 922.5,417.5 920,422.5 915,430 910,433.8 900,432.5 892.5,433.8 887.5,438.8 882.5,443M870,377.5 871.2,387.5 876.2,396.2 877.5,400 871.2,405 868.1,412.5 870,420 868.8,425M953.8,405 960,405 967.5,406.2 968.8,400 972.5,395 977.5,390 976.2,381.2 980,377.5 986.2,376.2 992.5,380 998.8,385 1005,390 1010,388.8 1011.2,382.5 1010,377.5 1015,378.1 1025,377.5M967.5,406.2 972.5,408.8 980,410 983.8,413.8 981.2,420 975,425 971.2,426.2 962.5,430 957.5,435 957.5,442.5 955,450 953.8,455 956.2,460 955,467.5 952.5,473.8 955,475 958.8,478.8 961.2,485 965,491.2 966.2,493M882.5,441 890,439 898.8,440 900,447 898.8,457.5 897.5,463.8 898.8,466.2 896,473 897.5,483.8 901.2,487.5 901.2,493.8 903.8,498.8M898.8,457.5 906.2,460 915,463.8 921.2,460 926.2,458.8 930,460 935,463 945,468 952.5,473.8M952.5,473.8 947.5,480 943,492 938.8,501.2 932.5,506.2 927.5,503.8 920,502.5 912.5,501.2 903.8,498.8M903.8,498.8 901.2,503.8 895,508.8 887.5,511.2 878.8,510 871.2,508.8 868.8,502.5 866.2,495M908.8,500 912.5,506.2 910,512.5 910,517.5 902.5,516.2 897.5,516.2 895,521.2 894.4,526.9 898.8,531.2 901.2,533.8 901.2,538.8M966.2,493 972.5,493.8 980,493.8 990,493.8 1000,495 1006.2,492.5 1015,492.5 1022.5,491.2 1027.5,490 1032.5,492.5 1037.5,493.8 1043.8,491.2 1050,491.2M1000,495 997.5,501.2 992.5,506.2 989.4,510 990,517.5 991.2,523.8M710,467.5 717.5,467.5 725,463.8 731.2,466.2 736.2,471.2 742.5,475 750,472.5 756.2,468.8 760,465 762.5,461.9M686,462 695,466 703,468 710,467.5M763.8,473.8 758.8,476.2 756.2,481.2 753.8,486.2 751.2,492.5 747.5,497.5 745,501.2 737.5,503.8 731.2,508.8 726.2,512.5 717.5,515 710,517.5 700,515M802.5,508.8 806.2,516.2 808.8,522.5 810,527.5 813.8,535 818.8,542.5 820,547.5 823.8,552.5M185,466.2 190,468.1 195,469.5"/>
</g>
<g id="labels">
<text class="d" x="420.9" y="143">31 Ocak</text>
<text class="d" x="386" y="184.25">30 Ocak</text>
<text class="d" x="547.5" y="166.75">28 Ocak</text>
<text class="d" x="629.4" y="200.6">31 Ocak</text>
<text class="d" x="693.1" y="219.4">30 Ocak</text>
<text class="d" x="445.9" y="639.2">30 Ocak</text>
<text class="d" x="512.7" y="650.8">29 Ocak</text>
<text class="d" x="550.6" y="606">31 Ocak</text>
<text class="d" x="666.9" y="618.9">27 Ocak</text>
<text class="n" x="139.6" y="211.25">Kırklareli</text><text class="v" x="126.8 132.3 137.8 145.1 152.4" y="224.75">2.255</text>
<text class="n" x="87.8" y="238.5">Edirne</text><text class="v" x="74.6 80.1 85.6 92.9 100.6" y="252.5">2.530</text>
<text class="n" x="134.6" y="260.6">Tekirdağ</text><text class="v" x="121.8 127.3 132.8 140.1 147.4" y="274.4">6.865</text>
<text class="n" x="215.6" y="209.4">İstanbul</text><text class="v" x="193.5 200.7 208.8 214.6 220.5 228.6 236.7" y="223.1">100.000</text>
<text class="n" x="276.9" y="223.1">Kocaeli</text><text class="v" x="259.6 266.8 272.7 278.2 285.5 293.2" y="236.9">10.340</text>
<text class="n" x="205" y="281.9">Yalova</text><text class="v" x="191.8 196.7 202.2 209.9 217.6" y="296.25">1.805</text>
<text class="n" x="289.2" y="281.9">Sakarya</text><text class="v" x="276.4 281.9 287.4 294.7 302.0" y="296.25">6.633</text>
<text class="n" x="335.5" y="262.5">Düzce</text><text class="v" x="322.3 327.8 333.3 340.6 348.3" y="276.25">2.470</text>
<text class="n" x="353" y="231.9">Zonguldak</text><text class="v" x="340.2 345.2 350.6 357.9 365.2" y="245.6">1.872</text>
<text class="n" x="399.5" y="207.5">Bartın</text><text class="v" x="386.3 391.2 396.7 404.0 411.8" y="221.5">1.620</text>
<text class="n" x="408.3" y="245.6">Karabük</text><text class="v" x="394.7 399.7 405.1 412.9 421.0" y="259.75">1.600</text>
<text class="n" x="467.6" y="226.25">Kastamonu</text><text class="v" x="454.4 459.9 465.4 472.7 480.4" y="240">2.380</text>
<text class="n" x="527.5" y="209.4">Sinop</text><text class="v" x="520.2 527.5 534.8" y="223.5">947</text>
<text class="n" x="585.5" y="243.5">Samsun</text><text class="v" x="572.7 578.2 583.7 591.0 598.3" y="257.4">6.397</text>
<text class="n" x="673.1" y="270">Ordu</text><text class="v" x="660.3 665.8 671.3 678.6 685.9" y="284.1">3.334</text>
<text class="n" x="721" y="283.75">Giresun</text><text class="v" x="708.2 713.2 718.7 726.0 733.2" y="297.75">1.576</text>
<text class="n" x="796" y="269.4">Trabzon</text><text class="v" x="783.2 788.7 794.2 801.5 808.8" y="283.1">3.734</text>
<text class="n" x="850" y="261.25">Rize</text><text class="v" x="836.8 842.3 848.2 855.9 863.2" y="275">2.042</text>
<text class="n" x="903.1" y="243.75">Artvin</text><text class="v" x="889.5 894.5 900.4 908.1 915.8" y="257.75">1.020</text>
<text class="n" x="957.5" y="249.4">Ardahan</text><text class="v" x="950.8 957.5 964.2" y="263.5">619</text>
<text class="n" x="970.3" y="293.75">Kars</text><text class="v" x="957.1 962.1 967.6 974.9 982.5" y="307.9">1.730</text>
<text class="n" x="1016.9" y="334.4">Iğdır</text><text class="v" x="1003.3 1008.2 1013.8 1021.4 1029.5" y="348.5">1.200</text>
<text class="n" x="970.3" y="355.6">Ağrı</text><text class="v" x="957.1 962.6 968.1 975.4 983.1" y="370">2.840</text>
<text class="n" x="889.2" y="327.5">Erzurum</text><text class="v" x="876.0 881.5 887.0 894.7 902.4" y="341.5">4.905</text>
<text class="n" x="815.2" y="316.25">Bayburt</text><text class="v" x="807.9 815.2 822.5" y="330.6">723</text>
<text class="n" x="772.1" y="305">Gümüşhane</text><text class="v" x="764.8 772.1 779.4" y="318.75">926</text>
<text class="n" x="750.6" y="346.25">Erzincan</text><text class="v" x="737.4 742.4 747.9 755.2 762.9" y="360">1.760</text>
<text class="n" x="664" y="354.75">Sivas</text><text class="v" x="650.8 656.3 661.8 669.5 677.2" y="368.75">3.904</text>
<text class="n" x="630.6" y="297.25">Tokat</text><text class="v" x="617.8 623.3 628.8 636.1 643.4" y="311.25">3.392</text>
<text class="n" x="581.3" y="278.5">Amasya</text><text class="v" x="568.6 574.1 579.6 587.3 594.5" y="292.5">2.601</text>
<text class="n" x="520.2" y="291.25">Çorum</text><text class="v" x="507.4 512.9 518.4 525.7 533.0" y="305.25">2.867</text>
<text class="n" x="456.25" y="281.9">Çankırı</text><text class="v" x="443.5 448.4 453.9 461.2 468.5" y="296.25">1.753</text>
<text class="n" x="376.9" y="279.4">Bolu</text><text class="v" x="363.7 368.6 374.1 381.4 389.1" y="293.75">1.950</text>
<text class="n" x="408.1" y="337.75">Ankara</text><text class="v" x="391.2 399.0 404.9 410.4 417.7 425.0" y="351.9">30.823</text>
<text class="n" x="470.1" y="334.4">Kırıkkale</text><text class="v" x="457.3 462.3 467.8 475.1 482.4" y="348.5">1.689</text>
<text class="n" x="552.25" y="348.75">Yozgat</text><text class="v" x="539.4 544.9 550.4 557.7 565.0" y="362.5">2.858</text>
<text class="n" x="491.5" y="373.75">Kırşehir</text><text class="v" x="478.7 483.7 489.1 496.4 503.8" y="387.75">1.633</text>
<text class="n" x="521.1" y="415.6">Nevşehir</text><text class="v" x="508.3 513.8 519.3 526.6 533.9" y="429.75">2.368</text>
<text class="n" x="475.7" y="439.4">Aksaray</text><text class="v" x="462.9 468.4 473.9 481.2 488.5" y="453.75">2.353</text>
<text class="n" x="519.2" y="475.6">Niğde</text><text class="v" x="506.0 511.5 517.0 524.7 532.4" y="489.75">2.604</text>
<text class="n" x="582.5" y="421.25">Kayseri</text><text class="v" x="569.7 575.2 580.7 588.0 595.3" y="435.6">7.562</text>
<text class="n" x="396.7" y="463.1">Konya</text><text class="v" x="379.1 385.8 391.3 397.2 405.3 413.4" y="477.5">15.000</text>
<text class="n" x="446.5" y="525.4">Karaman</text><text class="v" x="433.3 438.2 443.7 451.0 458.8" y="540">1.550</text>
<text class="n" x="478.3" y="560">Mersin</text><text class="v" x="465.6 471.2 476.1 482.8 490.6" y="573.75">8.190</text>
<text class="n" x="563.5" y="546">Adana</text><text class="v" x="547.1 553.8 559.3 564.8 572.1 579.4" y="560">12.292</text>
<text class="n" x="609.8" y="523.75">Osmaniye</text><text class="v" x="596.6 602.1 607.6 614.9 622.6" y="537.5">2.990</text>
<text class="n" x="605.1" y="588.3">Hatay</text><text class="v" x="588.7 595.4 600.9 606.4 613.7 621.0" y="602.4">12.639</text>
<text class="n" x="644.9" y="565.6">Kilis</text><text class="v" x="632.2 637.2 642.2 648.9 656.6" y="580">1.170</text>
<text class="n" x="665.4" y="536.9">Gaziantep</text><text class="v" x="648.5 655.3 660.8 666.3 673.6 681.3" y="551">13.890</text>
<text class="n" x="643.4" y="472.5">Kahramanmaraş</text><text class="v" x="631.1 636.6 641.6 648.4 655.6" y="486.9">8.195</text>
<text class="n" x="696.3" y="431.25">Malatya</text><text class="v" x="683.1 688.6 694.1 701.8 709.5" y="445">9.609</text>
<text class="n" x="714" y="488.1">Adıyaman</text><text class="v" x="700.8 706.3 711.8 719.1 726.8" y="502.5">6.620</text>
<text class="n" x="758.1" y="525.5">Şanlıurfa</text><text class="v" x="741.8 748.6 754.1 759.0 765.8 773.5" y="540">13.190</text>
<text class="n" x="856.6" y="516.6">Mardin</text><text class="v" x="843.8 849.3 854.8 862.1 869.4" y="530.6">5.357</text>
<text class="n" x="827" y="463.5">Diyarbakır</text><text class="v" x="811.1 817.9 823.4 828.3 835.1 842.4" y="477.5">12.165</text>
<text class="n" x="780.1" y="427.5">Elazığ</text><text class="v" x="767.3 772.8 778.3 785.6 792.9" y="441">3.685</text>
<text class="n" x="772.3" y="390">Tunceli</text><text class="v" x="765.0 772.3 779.6" y="404">775</text>
<text class="n" x="846.9" y="400">Bingöl</text><text class="v" x="833.7 839.2 845.1 852.8 860.1" y="413.75">2.072</text>
<text class="n" x="895.7" y="403.1">Muş</text><text class="v" x="883.5 889.0 893.9 900.7 908.0" y="417.5">2.142</text>
<text class="n" x="932" y="432.5">Bitlis</text><text class="v" x="919.2 924.7 930.2 937.5 944.8" y="446.9">2.363</text>
<text class="n" x="1003" y="438.1">Van</text><text class="v" x="989.8 995.3 1000.8 1008.5 1016.2" y="451.9">6.803</text>
<text class="n" x="1028.6" y="504.4">Hakkari</text><text class="v" x="1015.8 1020.8 1026.2 1033.6 1040.9" y="518.5">1.557</text>
<text class="n" x="958.4" y="504.4">Şırnak</text><text class="v" x="945.6 950.6 956.1 963.4 970.6" y="518.5">1.492</text>
<text class="n" x="932.2" y="473.75">Siirt</text><text class="v" x="919.4 924.4 929.9 937.2 944.5" y="488.1">1.527</text>
<text class="n" x="879.4" y="475">Batman</text><text class="v" x="866.8 872.2 877.8 884.5 891.6" y="489">3.810</text>
<text class="n" x="217.9" y="322.5">Bursa</text><text class="v" x="201.4 208.2 213.7 219.2 226.5 233.8" y="336.25">17.225</text>
<text class="n" x="279.4" y="318.1">Bilecik</text><text class="v" x="267.1 272.1 277.6 284.3 291.1" y="331.9">1.419</text>
<text class="n" x="325.2" y="354.4">Eskişehir</text><text class="v" x="312.0 317.5 323.4 331.1 338.4" y="368.75">6.025</text>
<text class="n" x="245.2" y="379">Kütahya</text><text class="v" x="232.4 237.9 243.4 250.7 258.0" y="393.1">3.592</text>
<text class="n" x="163.5" y="348.75">Balıkesir</text><text class="v" x="150.7 156.2 161.7 169.0 176.3" y="362.5">7.548</text>
<text class="n" x="103.5" y="327.5">Çanakkale</text><text class="v" x="90.7 96.2 101.7 109.0 116.3" y="341.25">3.376</text>
<text class="n" x="170" y="416.9">Manisa</text><text class="v" x="157.2 162.7 168.2 175.5 182.8" y="430.6">7.229</text>
<text class="n" x="113.9" y="450">İzmir</text><text class="v" x="97.2 104.0 108.9 114.8 122.5 130.2" y="464.4">21.020</text>
<text class="n" x="148" y="488.75">Aydın</text><text class="v" x="135.8 141.2 146.2 152.9 160.2" y="503.1">7.123</text>
<text class="n" x="194.6" y="561.9">Muğla</text><text class="v" x="182.3 187.8 192.8 199.5 206.8" y="575.6">6.197</text>
<text class="n" x="226.4" y="486.25">Denizli</text><text class="v" x="213.8 219.2 224.2 230.9 238.7" y="500.6">6.190</text>
<text class="n" x="228.6" y="431.25">Uşak</text><text class="v" x="215.8 221.3 226.8 234.1 241.4" y="445">2.464</text>
<text class="n" x="309" y="421.25">Afyonkarahisar</text><text class="v" x="295.8 301.3 306.8 314.1 321.8" y="435.6">4.370</text>
<text class="n" x="319.8" y="472.5">Isparta</text><text class="v" x="307.0 312.5 318.0 325.3 332.6" y="486.25">2.889</text>
<text class="n" x="272.5" y="504.4">Burdur</text><text class="v" x="259.3 264.8 270.3 278.0 285.7" y="518.75">2.208</text>
<text class="n" x="327.5" y="536.9">Antalya</text><text class="v" x="311.6 318.3 323.9 329.3 336.1 342.8" y="551.25">13.213</text>
</g>
<g id="leaders">
<line x1="215.6" y1="226.5" x2="215.6" y2="248.1" stroke="#151515" stroke-width="1.6"/>
<line x1="277.9" y1="239.6" x2="277.9" y2="257.75" stroke="#151515" stroke-width="1.6"/>
<line x1="422.6" y1="152" x2="422.6" y2="211.6" stroke="#6d7178" stroke-width="1.1"/>
<circle cx="422.6" cy="214.4" r="2.6" fill="#fff" stroke="#3a3d42" stroke-width="1"/>
<line x1="388.1" y1="193" x2="388.1" y2="252.8" stroke="#6d7178" stroke-width="1.1"/>
<circle cx="388.1" cy="255.6" r="2.6" fill="#fff" stroke="#3a3d42" stroke-width="1"/>
<line x1="549.6" y1="175.5" x2="549.6" y2="214.3" stroke="#6d7178" stroke-width="1.1"/>
<circle cx="549.6" cy="217.1" r="2.6" fill="#fff" stroke="#3a3d42" stroke-width="1"/>
<line x1="631.25" y1="210" x2="631.25" y2="249.1" stroke="#6d7178" stroke-width="1.1"/>
<circle cx="631.25" cy="251.9" r="2.6" fill="#fff" stroke="#3a3d42" stroke-width="1"/>
<line x1="695.25" y1="228.75" x2="695.25" y2="267.4" stroke="#6d7178" stroke-width="1.1"/>
<circle cx="695.25" cy="270.25" r="2.6" fill="#fff" stroke="#3a3d42" stroke-width="1"/>
<line x1="447.4" y1="616.5" x2="447.4" y2="456.5" stroke="#6d7178" stroke-width="1.1"/>
<circle cx="447.3" cy="453.75" r="2.6" fill="#fff" stroke="#3a3d42" stroke-width="1"/>
<line x1="514.5" y1="632.5" x2="514.5" y2="509.3" stroke="#6d7178" stroke-width="1.1"/>
<circle cx="514.4" cy="506.5" r="2.6" fill="#fff" stroke="#3a3d42" stroke-width="1"/>
<line x1="533.9" y1="589.5" x2="533.9" y2="439.2" stroke="#6d7178" stroke-width="1.1"/>
<circle cx="533.8" cy="436.4" r="2.6" fill="#fff" stroke="#3a3d42" stroke-width="1"/>
<line x1="668.75" y1="596.25" x2="668.75" y2="573.7" stroke="#6d7178" stroke-width="1.1"/>
<circle cx="668.75" cy="570.9" r="2.6" fill="#fff" stroke="#3a3d42" stroke-width="1"/>
</g>
<rect x="38.5" y="666.5" width="13" height="13" fill="#72a9ea"/>
<text x="57.5" y="678.4" style="font-size:13.8px;font-weight:700;fill:#1a1a1a" textLength="191" lengthAdjust="spacingAndGlyphs">Kura çekimi tamamlanan iller</text>
<rect x="270" y="666.5" width="13" height="13" fill="#bdd9f9"/>
<text x="287.5" y="678.4" style="font-size:13.8px;font-weight:700;fill:#1a1a1a" textLength="218.5" lengthAdjust="spacingAndGlyphs">26-31 Ocak’ta kura çekilecek iller</text>
<rect x="38" y="709.3" width="1020.6" height="1.5" fill="#b7b6b1"/>
<text x="38" y="722.4" style="font-size:9.4px;fill:#333">26.01.2026</text>
<text x="125.5" y="722.4" style="font-size:9.2px;fill:#333">Kaynak: Çevre, Şehircilik ve İklim Değişikliği Bakanlığı</text>
<g id="logo-bakanlik">
<circle cx="946.8" cy="82.3" r="43.9" fill="#fff" stroke="#3a6ec5" stroke-width="3.8"/>
<circle cx="946.8" cy="82.3" r="38.2" fill="none" stroke="#e0212d" stroke-width="1.7" stroke-dasharray="1.5 .5"/>
<path d="M946.80,48.10 947.52,50.01 949.56,50.10 947.96,51.38 948.50,53.35 946.80,52.22 945.10,53.35 945.64,51.38 944.04,50.10 946.08,50.01ZM959.89,50.70 959.82,52.75 961.67,53.61 959.70,54.17 959.45,56.20 958.31,54.51 956.31,54.90 957.56,53.29 956.57,51.50 958.49,52.20ZM970.98,58.12 970.14,59.98 971.52,61.48 969.49,61.25 968.48,63.03 968.07,61.03 966.07,60.62 967.85,59.61 967.62,57.58 969.12,58.96ZM978.40,69.21 976.90,70.61 977.60,72.53 975.81,71.54 974.20,72.79 974.59,70.79 972.90,69.65 974.93,69.40 975.49,67.43 976.35,69.28ZM981.00,82.30 979.09,83.02 979.00,85.06 977.72,83.46 975.75,84.00 976.88,82.30 975.75,80.60 977.72,81.14 979.00,79.54 979.09,81.58ZM978.40,95.39 976.35,95.32 975.49,97.17 974.93,95.20 972.90,94.95 974.59,93.81 974.20,91.81 975.81,93.06 977.60,92.07 976.90,93.99ZM970.98,106.48 969.12,105.64 967.62,107.02 967.85,104.99 966.07,103.98 968.07,103.57 968.48,101.57 969.49,103.35 971.52,103.12 970.14,104.62ZM959.89,113.90 958.49,112.40 956.57,113.10 957.56,111.31 956.31,109.70 958.31,110.09 959.45,108.40 959.70,110.43 961.67,110.99 959.82,111.85ZM946.80,116.50 946.08,114.59 944.04,114.50 945.64,113.22 945.10,111.25 946.80,112.38 948.50,111.25 947.96,113.22 949.56,114.50 947.52,114.59ZM933.71,113.90 933.78,111.85 931.93,110.99 933.90,110.43 934.15,108.40 935.29,110.09 937.29,109.70 936.04,111.31 937.03,113.10 935.11,112.40ZM922.62,106.48 923.46,104.62 922.08,103.12 924.11,103.35 925.12,101.57 925.53,103.57 927.53,103.98 925.75,104.99 925.98,107.02 924.48,105.64ZM915.20,95.39 916.70,93.99 916.00,92.07 917.79,93.06 919.40,91.81 919.01,93.81 920.70,94.95 918.67,95.20 918.11,97.17 917.25,95.32ZM912.60,82.30 914.51,81.58 914.60,79.54 915.88,81.14 917.85,80.60 916.72,82.30 917.85,84.00 915.88,83.46 914.60,85.06 914.51,83.02ZM915.20,69.21 917.25,69.28 918.11,67.43 918.67,69.40 920.70,69.65 919.01,70.79 919.40,72.79 917.79,71.54 916.00,72.53 916.70,70.61ZM922.62,58.12 924.48,58.96 925.98,57.58 925.75,59.61 927.53,60.62 925.53,61.03 925.12,63.03 924.11,61.25 922.08,61.48 923.46,59.98ZM933.71,50.70 935.11,52.20 937.03,51.50 936.04,53.29 937.29,54.90 935.29,54.51 934.15,56.20 933.90,54.17 931.93,53.61 933.78,52.75Z" fill="#e0212d"/>
<circle cx="946.8" cy="82.3" r="26.3" fill="none" stroke="#e0212d" stroke-width=".7"/>
<circle cx="946.8" cy="82.3" r="19.3" fill="none" stroke="#e0212d" stroke-width=".7"/>
<path id="sealTop" d="M928.44,92.90 A21.2,21.2 0 1 1 965.16,92.90" fill="none"/>
<text style="font-size:4.1px;font-weight:700;fill:#e0212d;letter-spacing:.05px"><textPath href="#sealTop" startOffset="50%" text-anchor="middle">T.C. ÇEVRE, ŞEHİRCİLİK VE İKLİM DEĞİŞİKLİĞİ</textPath></text>
<path id="sealBot" d="M926.65,96.41 A24.6,24.6 0 0 0 966.95,96.41" fill="none"/>
<text style="font-size:4.1px;font-weight:700;fill:#e0212d;letter-spacing:.3px"><textPath href="#sealBot" startOffset="50%" text-anchor="middle">BAKANLIĞI</textPath></text>
<circle cx="946.8" cy="81.1" r="12.4" fill="#e0212d"/>
<rect x="933.3" y="89.5" width="27" height="8" fill="#fff"/>
<circle cx="945.5999999999999" cy="74.7" r="2.7" fill="#fff"/><circle cx="946.3" cy="74.7" r="2.15" fill="#e0212d"/>
<path d="M950.04,74.33 949.38,74.86 949.61,75.67 948.90,75.20 948.19,75.67 948.42,74.86 947.76,74.33 948.60,74.29 948.90,73.50 949.20,74.29Z" fill="#fff"/>
<path d="M940.6,88.9 v-8.5 h2.4 v8.5z M944.0,88.9 v-9.6 h2.4 v9.6z M947.4,88.9 v-8 h2.4 v8z M950.8,88.9 v-4 l1.7,-2.6 l1.7,2.6 v4z" fill="#fff"/>
<path d="M933.8,90.9 q6,-1.2 13,3 q7,-4.2 13,-3 l-1.2,1.5 q-6,-.6 -11.8,3.4 q-5.8,-4 -11.8,-3.4z" fill="#e0212d"/>
<path d="M935.6,95.5 q5.5,-.6 11.2,2.8 q5.7,-3.4 11.2,-2.8" fill="none" stroke="#e0212d" stroke-width=".6"/>
</g>
<g id="logo-proje">
<defs><radialGradient id="og" cx="50%" cy="45%" r="55%"><stop offset="0" stop-color="#f58a1f"/><stop offset=".7" stop-color="#f7941e"/><stop offset="1" stop-color="#fbb21c"/></radialGradient></defs>
<circle cx="1024.9" cy="82.3" r="43.6" fill="#fab81b" stroke="#3a6ec5" stroke-width="3.8"/>
<circle cx="1024.9" cy="82.3" r="30.2" fill="url(#og)"/>
<circle cx="1024.9" cy="82.3" r="30.6" fill="none" stroke="#fdd23c" stroke-width="1.2" stroke-dasharray=".9 1.7"/>
<path id="prTop" d="M992.74,78.35 A32.4,32.4 0 0 1 1057.26,80.60" fill="none"/>
<text style="font-size:8.4px;font-weight:700;fill:#2a2118"><textPath href="#prTop" startOffset="0" textLength="95" lengthAdjust="spacingAndGlyphs">'Yüzyılın Konut Projesi'</textPath></text>
<path id="prBot" d="M988.37,97.06 A39.4,39.4 0 0 0 1061.43,97.06" fill="none"/>
<text style="font-size:7.8px;font-weight:700;fill:#2a2118"><textPath href="#prBot" startOffset="0" textLength="92" lengthAdjust="spacingAndGlyphs">500 bin sosyal konut</textPath></text>
<circle cx="987.7" cy="88.3" r="1.9" fill="#1d1a16"/><circle cx="1061.5" cy="88.3" r="1.9" fill="#1d1a16"/>
<path d="M1009.4,85.8 l14.5,-12.5 l3.2,2.8 v-3.4 h3.4 v6.3 l7.6,6.6 h-4.6 v16 h-8.6 v-8.6 h-5.4 v8.6 h-8 v-16z" fill="#fff"/>
<path d="M1006.3,91.9 l2.4,-.4 l1.6,7.4 l6.2,4.2 q2.6,2 2.6,5.2 v8.4 h-6.6 l-5,-6.6 q-1.4,-2 -1.6,-4.6z" fill="#fff"/>
<path d="M1041.3,91.9 l-2.4,-.4 l-1.6,7.4 l-6.2,4.2 q-2.6,2 -2.6,5.2 v8.4 h6.6 l5,-6.6 q1.4,-2 1.6,-4.6z" fill="#fff"/>
<circle cx="1022.3000000000001" cy="60.699999999999996" r="2.6" fill="none" stroke="#fff" stroke-width="1.7"/>
<path d="M1021.5,63.3 l-4.8,10.6 M1023.3,63.3 l3.8,10.4" fill="none" stroke="#fff" stroke-width="1.9" stroke-linecap="round"/>
</g>
<g id="logo-aa">
<path d="M1067.28,714.24 A13.5,13.5 0 1 1 1091.12,714.24" fill="none" stroke="#0b309f" stroke-width="3"/>
<text x="1079.2" y="722.7" text-anchor="middle" textLength="29.5" lengthAdjust="spacingAndGlyphs" style="font-size:29.8px;font-weight:700;fill:#0b309f;stroke:#0b309f;stroke-width:.7px">AA</text>
</g>
</svg></body></html>
